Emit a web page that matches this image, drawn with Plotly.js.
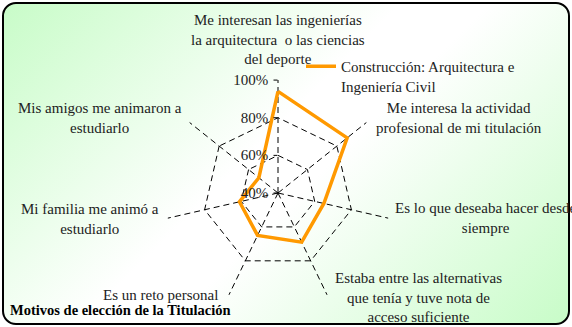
<!DOCTYPE html>
<html>
<head>
<meta charset="utf-8">
<script src="https://cdn.plot.ly/plotly-3.0.1.min.js"></script>
<style>
  html, body { margin: 0; padding: 0; background: #fff; overflow: hidden; }
  #frame {
    position: absolute; left: 2px; top: 2px; width: 564px; height: 319px;
    border: 2px solid #000; border-radius: 14px;
    background: linear-gradient(135deg, #c8fcc8 0%, #ffffff 45%, #ffffff 55%, #c8fcc8 100%);
  }
  #chart { position: absolute; left: 0; top: 0; width: 572px; height: 327px; }
</style>
</head>
<body>
<div id="frame"></div>
<div id="chart"></div>
<script>
// categories clockwise from the top
const categories = [
  'Me interesan las ingenierías<br>la arquitectura  o las ciencias<br>del deporte',
  'Me interesa la actividad<br>profesional de mi titulación',
  'Es lo que deseaba hacer desde<br>siempre',
  'Estaba entre las alternativas<br>que tenía y tuve nota de<br>acceso suficiente',
  'Es un reto personal',
  'Mi familia me animó a<br>estudiarlo',
  'Mis amigos me animaron a<br>estudiarlo'
];
const seriesName = 'Construcción: Arquitectura e<br>Ingeniería Civil';
const values = [94, 87, 65, 69, 65, 61, 53];
const radialTicks = [40, 60, 80, 100];
const radialTickText = ['40%', '60%', '80%', '100%'];

// where each category label sits (paper px)
const labelPos = [
  [278, 40], [459, 118], [486, 218], [418, 297], [160, 295], [90, 219], [100, 118]
];

const W = 572, H = 327;
const SERIF = 'Times New Roman, Liberation Serif, serif';
const FS = 15;

const trace = {
  type: 'scatterpolar',
  mode: 'lines',
  r: values.concat([values[0]]),
  theta: categories.concat([categories[0]]),
  name: seriesName,
  line: { color: '#ff9900', width: 3.5 },
  showlegend: true
};

const annotations = categories.map((c, i) => ({
  text: c,
  xref: 'paper', yref: 'paper',
  x: labelPos[i][0] / W, y: 1 - labelPos[i][1] / H,
  xanchor: 'center', yanchor: 'middle',
  showarrow: false,
  font: { family: SERIF, size: FS, color: '#222' }
}));

const layout = {
  width: W, height: H,
  margin: { l: 0, r: 0, t: 0, b: 0 },
  paper_bgcolor: 'rgba(0,0,0,0)',
  plot_bgcolor: 'rgba(0,0,0,0)',
  font: { family: SERIF, size: FS, color: '#222' },
  title: {
    text: '<b>Motivos de elección de la Titulación</b>',
    x: 10 / W, xanchor: 'left', xref: 'paper',
    y: 1 - 310 / H, yanchor: 'middle', yref: 'paper',
    font: { family: SERIF, size: 14.5, color: '#000' }
  },
  showlegend: true,
  legend: {
    x: 301 / W, y: 1 - 50 / H, xanchor: 'left', yanchor: 'top',
    bgcolor: 'rgba(0,0,0,0)', borderwidth: 0,
    valign: 'top',
    font: { family: SERIF, size: FS, color: '#222' }
  },
  polar: {
    domain: { x: [165 / W, 391 / W], y: [1 - 306 / H, 1 - 80 / H] },
    bgcolor: 'rgba(0,0,0,0)',
    gridshape: 'linear',
    radialaxis: {
      range: [40, 100.05],
      tickvals: radialTicks,
      ticktext: radialTickText,
      angle: 90,
      tickangle: 90,
      side: 'counterclockwise',
      showline: false,
      ticks: 'outside', ticklen: 4, tickcolor: '#000',
      gridcolor: '#000', griddash: '6px,4px', gridwidth: 1,
      tickfont: { family: SERIF, size: FS, color: '#222' }
    },
    angularaxis: {
      direction: 'clockwise',
      rotation: 90,
      showticklabels: false,
      ticks: '',
      showline: false,
      gridcolor: '#000', griddash: '6px,4px', gridwidth: 1
    }
  },
  annotations: annotations
};

Plotly.newPlot('chart', [trace], layout, { displayModeBar: false, staticPlot: true });
</script>
</body>
</html>
